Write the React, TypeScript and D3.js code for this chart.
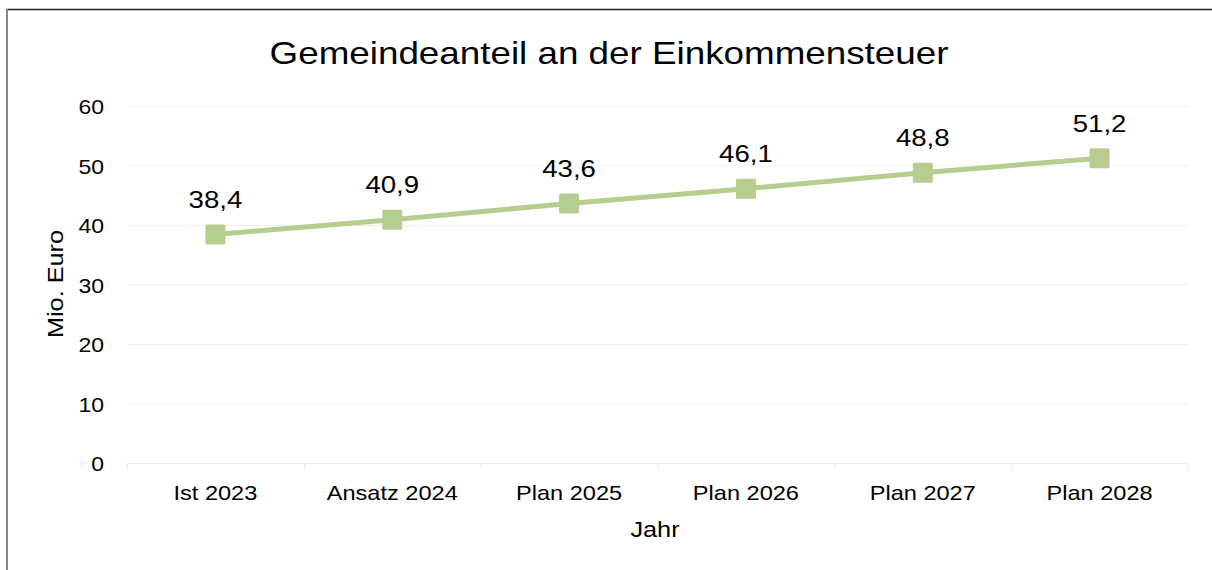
import * as d3 from "d3";
import { useEffect } from "react";

const categories = ["Ist 2023", "Ansatz 2024", "Plan 2025", "Plan 2026", "Plan 2027", "Plan 2028"];
const values = [38.4, 40.9, 43.6, 46.1, 48.8, 51.2];
const yTicks = [0, 10, 20, 30, 40, 50, 60];

const W = 1212;
const H = 570;
const margin = { top: 106, right: 24, bottom: 107, left: 127 };
const font = "Liberation Sans, Arial, sans-serif";
const green = "#b5cd8f";
const SX = 1.15; // reference text is drawn a bit wider than plain Arial

export default function App() {
  useEffect(() => {
    document.body.style.margin = "0";
    document.body.style.overflow = "hidden";
  }, []);

  const x = d3.scaleBand<string>().domain(categories).range([margin.left, W - margin.right]);
  const y = d3.scaleLinear().domain([0, 60]).range([H - margin.bottom, margin.top]);
  const cx = (c: string) => x(c)! + x.bandwidth() / 2;
  const line = d3.line<number>().x((_, i) => cx(categories[i])).y(d => y(d));
  const fmt = (v: number) => v.toFixed(1).replace(".", ",");
  const y0 = y(0);
  const at = (px: number, py: number, rot = 0) =>
    `translate(${px},${py})${rot ? ` rotate(${rot})` : ""} scale(${SX},1)`;

  return (
    <svg width={W} height={H} style={{ display: "block" }} fontFamily={font}>
      <rect x={0} y={0} width={W} height={H} fill="#fff" />
      <rect x={7} y={9.5} width={W + 20} height={H + 20} fill="none" stroke="#222" strokeWidth={1.5} />
      <line x1={7} x2={7} y1={9} y2={H} stroke="#888" strokeWidth={2} />
      <text transform={at(609, 64)} textAnchor="middle" fontSize={32} fill="#000">
        Gemeindeanteil an der Einkommensteuer
      </text>
      {yTicks.map(t => (
        <g key={t}>
          <line x1={margin.left} x2={W - margin.right} y1={y(t) + 0.5} y2={y(t) + 0.5}
            stroke={t === 0 ? "#ebe9df" : "#f0efe8"} strokeWidth={1} />
          <text transform={at(104, y(t) + 8)} textAnchor="end" fontSize={20} fill="#000">{t}</text>
        </g>
      ))}
      {categories.map(c => (
        <line key={"t" + c} x1={x(c)! + 0.5} x2={x(c)! + 0.5} y1={y0} y2={y0 + 6} stroke="#ebe9df" />
      ))}
      <line x1={W - margin.right + 0.5} x2={W - margin.right + 0.5} y1={y0} y2={y0 + 6} stroke="#ebe9df" />
      {categories.map(c => (
        <text key={c} transform={at(cx(c), y0 + 37)} textAnchor="middle" fontSize={20.5} fill="#000">{c}</text>
      ))}
      <text transform={at(655, 537)} textAnchor="middle" fontSize={22} fill="#000">Jahr</text>
      <text transform={at(63, 284, -90)} textAnchor="middle" fontSize={22} fill="#000">
        Mio. Euro
      </text>
      <path d={line(values)!} fill="none" stroke={green} strokeWidth={5} />
      {values.map((v, i) => (
        <g key={i}>
          <rect x={cx(categories[i]) - 10} y={y(v) - 10} width={20} height={20} rx={1.5} fill={green} />
          <text transform={at(cx(categories[i]), y(v) - 26.5)} textAnchor="middle" fontSize={24} fill="#000">{fmt(v)}</text>
        </g>
      ))}
    </svg>
  );
}
